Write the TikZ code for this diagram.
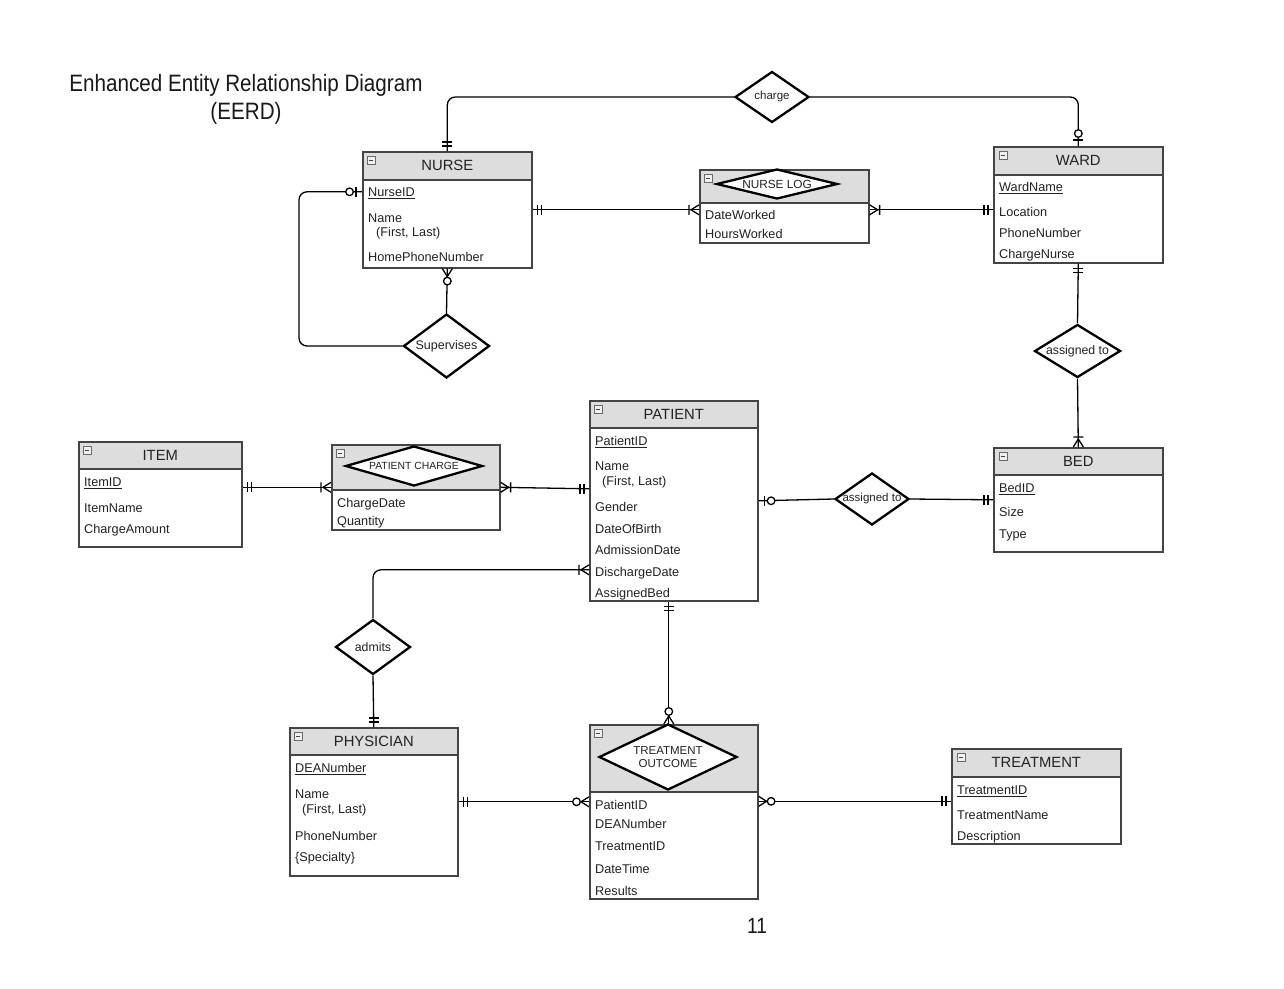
\documentclass[tikz,border=0pt]{standalone}
\usepackage{fontspec}
\setmainfont{Liberation Sans}
\usepackage{graphicx}
\usetikzlibrary{shapes.geometric}

\definecolor{hdrgray}{RGB}{221,221,221}
\definecolor{boxline}{RGB}{68,68,68}
\definecolor{txtgray}{RGB}{34,34,34}

\tikzset{
	ent/.style={rectangle, draw=boxline, line width=1.6pt, fill=white, inner sep=0pt, anchor=north west},
	hdr/.style={rectangle, draw=boxline, line width=1.6pt, fill=hdrgray, inner sep=0pt, anchor=north west, text=txtgray, font=\fontsize{14.8}{17}\selectfont},
	attr/.style={anchor=west, inner sep=0pt, text height=9.2pt, text depth=0pt, text=txtgray, font=\fontsize{12.7}{15}\selectfont},
	rel/.style={diamond, draw=black, line width=2.3pt, fill=white, inner sep=0pt, text=txtgray, font=\fontsize{11.5}{14}\selectfont},
	conn/.style={draw=black, line width=1.3pt},
	minbox/.pic={\draw[boxline!80, line width=0.8pt, fill=black!6] (-4,-4) rectangle (4,4); \draw[boxline, line width=0.8pt] (-2.2,0) -- (2.2,0);},
	mandone/.pic={\draw[line width=1.3pt] (5,-5) -- (5,5) (9,-5) -- (9,5);},
	optone/.pic={\draw[line width=1.3pt] (6,-5) -- (6,5); \draw[line width=1.3pt, fill=white] (12.5,0) circle (3.8);},
	mandmany/.pic={\draw[line width=1.3pt] (0,-5) -- (8,0) -- (0,5) (10,-5) -- (10,5);},
	optmany/.pic={\draw[line width=1.3pt] (0,-5) -- (8,0) -- (0,5); \draw[line width=1.3pt, fill=white] (12.5,0) circle (3.8);}
}

\begin{document}
\begin{tikzpicture}[x=1pt, y=-1pt]
		\fill[white] (0,0) rectangle (1284,988);
		\useasboundingbox (0,0) rectangle (1284,988);

		% titles
		\node[align=center, text=black!90, font=\fontsize{23.7}{28}\selectfont] (title) at (246,99) {\scalebox{0.87}[1]{Enhanced Entity Relationship Diagram}\\\scalebox{0.87}[1]{(EERD)}};
		\node[text=black!90, font=\fontsize{22}{26}\selectfont] (pagenum) at (757,926) {\scalebox{0.87}[1]{11}};

		% NURSE
		\node[ent, minimum width=169pt, minimum height=116pt] (nurse) at (362,151) {};
		\node[hdr, minimum width=169pt, minimum height=28pt] (nurseH) at (362,151) {NURSE};
		\pic at (371,160) {minbox};
		\node[attr] (nurseA1) at (368,192) {\underline{NurseID}};
		\node[attr] (nurseA2) at (368,218) {Name};
		\node[attr] (nurseA3) at (376,232) {(First, Last)};
		\node[attr] (nurseA4) at (368,257) {HomePhoneNumber};

		% NURSE LOG
		\node[ent, minimum width=169pt, minimum height=73pt] (nlog) at (699,169) {};
		\node[hdr, minimum width=169pt, minimum height=33pt] (nlogH) at (699,169) {};
		\pic at (708,178) {minbox};
		\node[rel, minimum width=121pt, minimum height=30pt, font=\fontsize{11.8}{14}\selectfont] (nlogD) at (777,184) {\makebox[0pt]{NURSE LOG}};
		\node[attr] (nlogA1) at (705,215) {DateWorked};
		\node[attr] (nlogA2) at (705,234) {HoursWorked};

		% WARD
		\node[ent, minimum width=169pt, minimum height=116pt] (ward) at (993,146) {};
		\node[hdr, minimum width=169pt, minimum height=28pt] (wardH) at (993,146) {WARD};
		\pic at (1003,155) {minbox};
		\node[attr] (wardA1) at (999,187) {\underline{WardName}};
		\node[attr] (wardA2) at (999,212) {Location};
		\node[attr] (wardA3) at (999,233) {PhoneNumber};
		\node[attr] (wardA4) at (999,254) {ChargeNurse};

		% BED
		\node[ent, minimum width=169pt, minimum height=104pt] (bed) at (993,447) {};
		\node[hdr, minimum width=169pt, minimum height=27pt] (bedH) at (993,447) {BED};
		\pic at (1003,456) {minbox};
		\node[attr] (bedA1) at (999,488) {\underline{BedID}};
		\node[attr] (bedA2) at (999,512) {Size};
		\node[attr] (bedA3) at (999,534) {Type};

		% PATIENT
		\node[ent, minimum width=168pt, minimum height=200pt] (pat) at (589,400) {};
		\node[hdr, minimum width=168pt, minimum height=27pt] (patH) at (589,400) {PATIENT};
		\pic at (598,409) {minbox};
		\node[attr] (patA1) at (595,441) {\underline{PatientID}};
		\node[attr] (patA2) at (595,466) {Name};
		\node[attr] (patA3) at (602,481) {(First, Last)};
		\node[attr] (patA4) at (595,507) {Gender};
		\node[attr] (patA5) at (595,529) {DateOfBirth};
		\node[attr] (patA6) at (595,550) {AdmissionDate};
		\node[attr] (patA7) at (595,572) {DischargeDate};
		\node[attr] (patA8) at (595,593) {AssignedBed};

		% ITEM
		\node[ent, minimum width=163pt, minimum height=105pt] (item) at (78,441) {};
		\node[hdr, minimum width=163pt, minimum height=27pt] (itemH) at (78,441) {ITEM};
		\pic at (87,450) {minbox};
		\node[attr] (itemA1) at (84,482) {\underline{ItemID}};
		\node[attr] (itemA2) at (84,508) {ItemName};
		\node[attr] (itemA3) at (84,529) {ChargeAmount};

		% PATIENT CHARGE
		\node[ent, minimum width=168pt, minimum height=85pt] (pch) at (331,444) {};
		\node[hdr, minimum width=168pt, minimum height=45pt] (pchH) at (331,444) {};
		\pic at (340,453) {minbox};
		\node[rel, minimum width=137pt, minimum height=40pt, font=\fontsize{10.4}{12}\selectfont] (pchD) at (414,466) {\makebox[0pt]{PATIENT CHARGE}};
		\node[attr] (pchA1) at (337,503) {ChargeDate};
		\node[attr] (pchA2) at (337,521) {Quantity};

		% PHYSICIAN
		\node[ent, minimum width=168pt, minimum height=148pt] (phys) at (289,727) {};
		\node[hdr, minimum width=168pt, minimum height=27pt] (physH) at (289,727) {PHYSICIAN};
		\pic at (298,736) {minbox};
		\node[attr] (physA1) at (295,768) {\underline{DEANumber}};
		\node[attr] (physA2) at (295,794) {Name};
		\node[attr] (physA3) at (302,809) {(First, Last)};
		\node[attr] (physA4) at (295,836) {PhoneNumber};
		\node[attr] (physA5) at (295,857) {\{Specialty\}};

		% TREATMENT OUTCOME
		\node[ent, minimum width=168pt, minimum height=174pt] (to) at (589,724) {};
		\node[hdr, minimum width=168pt, minimum height=67pt] (toH) at (589,724) {};
		\pic at (598,733) {minbox};
		\node[rel, minimum width=138pt, minimum height=66pt] (toD) at (668,757) {\makebox[0pt]{\shortstack{TREATMENT\\[2pt]OUTCOME}}};
		\node[attr] (toA1) at (595,805) {PatientID};
		\node[attr] (toA2) at (595,824) {DEANumber};
		\node[attr] (toA3) at (595,846) {TreatmentID};
		\node[attr] (toA4) at (595,869) {DateTime};
		\node[attr] (toA5) at (595,891) {Results};

		% TREATMENT
		\node[ent, minimum width=169pt, minimum height=95pt] (trt) at (951,748) {};
		\node[hdr, minimum width=169pt, minimum height=28pt] (trtH) at (951,748) {TREATMENT};
		\pic at (961,757) {minbox};
		\node[attr] (trtA1) at (957,790) {\underline{TreatmentID}};
		\node[attr] (trtA2) at (957,815) {TreatmentName};
		\node[attr] (trtA3) at (957,836) {Description};

		% relationships
		\node[rel, minimum width=74pt, minimum height=51pt] (charge) at (772,97) {\makebox[0pt]{charge}};
		\node[rel, minimum width=86pt, minimum height=64pt, font=\fontsize{12.5}{15}\selectfont] (sup) at (446.5,346) {\makebox[0pt]{Supervises}};
		\node[rel, minimum width=86pt, minimum height=53pt, font=\fontsize{12.3}{15}\selectfont] (asgbed) at (1077.5,351) {\makebox[0pt]{assigned to}};
		\node[rel, minimum width=74pt, minimum height=52pt] (asgpat) at (872,499) {\makebox[0pt]{assigned to}};
		\node[rel, minimum width=75pt, minimum height=55pt, font=\fontsize{12.3}{15}\selectfont] (admits) at (373,647) {\makebox[0pt]{admits}};

		% connectors
		\coordinate (nurseK) at ([yshift=18pt]nurse.west);
		\coordinate (patK) at ([yshift=12pt]pat.west);
		\coordinate (patD) at ([yshift=-69pt]pat.west);
		\coordinate (patS) at ([xshift=-5pt]pat.south);
		\coordinate (trtK) at ([yshift=-5pt]trt.west);

		\draw[conn, rounded corners=8pt] (nurse.north) |- (charge.west);
		\draw[conn, rounded corners=8pt] (charge.east) -| (ward.north);
		\draw[conn] (nurse.east) -- (nurse.east -| nlog.west);
		\draw[conn] (nurse.east -| nlog.east) -- (nurse.east -| ward.west);
		\draw[conn] (nurse.south) -- (sup.north);
		\draw[conn, rounded corners=8pt] (sup.west) -| ([xshift=-63pt]nurseK) -- (nurseK);
		\draw[conn] (ward.south) -- (asgbed.north);
		\draw[conn] (asgbed.south) -- (bed.north);
		\draw[conn] (pat.east) -- (asgpat.west);
		\draw[conn] (asgpat.east) -- (bed.west);
		\draw[conn] (item.east |- pch.west) -- (pch.west);
		\draw[conn] (pch.east) -- (patK);
		\draw[conn, rounded corners=8pt] (patD) -| (admits.north);
		\draw[conn] (admits.south) -- (phys.north);
		\draw[conn] (patS) -- (patS |- to.north);
		\draw[conn] (phys.east) -- (phys.east -| to.west);
		\draw[conn] (trtK -| to.east) -- (trtK);

		% cardinalities
		\pic[rotate=90] at (nurse.north) {mandone};
		\pic[rotate=90] at (ward.north) {optone};
		\pic at (nurse.east) {mandone};
		\pic[rotate=180] at (nurse.east -| nlog.west) {mandmany};
		\pic at (nurse.east -| nlog.east) {mandmany};
		\pic[rotate=180] at (nurse.east -| ward.west) {mandone};
		\pic[rotate=-90] at (nurse.south) {optmany};
		\pic[rotate=180] at (nurseK) {optone};
		\pic[rotate=-90] at (ward.south) {mandone};
		\pic[rotate=90] at (bed.north) {mandmany};
		\pic at (pat.east) {optone};
		\pic[rotate=180] at (bed.west) {mandone};
		\pic at (item.east |- pch.west) {mandone};
		\pic[rotate=180] at (pch.west) {mandmany};
		\pic at (pch.east) {mandmany};
		\pic[rotate=180] at (patK) {mandone};
		\pic[rotate=180] at (patD) {mandmany};
		\pic[rotate=90] at (phys.north) {mandone};
		\pic[rotate=-90] at (patS) {mandone};
		\pic[rotate=90] at (patS |- to.north) {optmany};
		\pic at (phys.east) {mandone};
		\pic[rotate=180] at (phys.east -| to.west) {optmany};
		\pic at (trtK -| to.east) {optmany};
		\pic[rotate=180] at (trtK) {mandone};
	\end{tikzpicture}
\end{document}
